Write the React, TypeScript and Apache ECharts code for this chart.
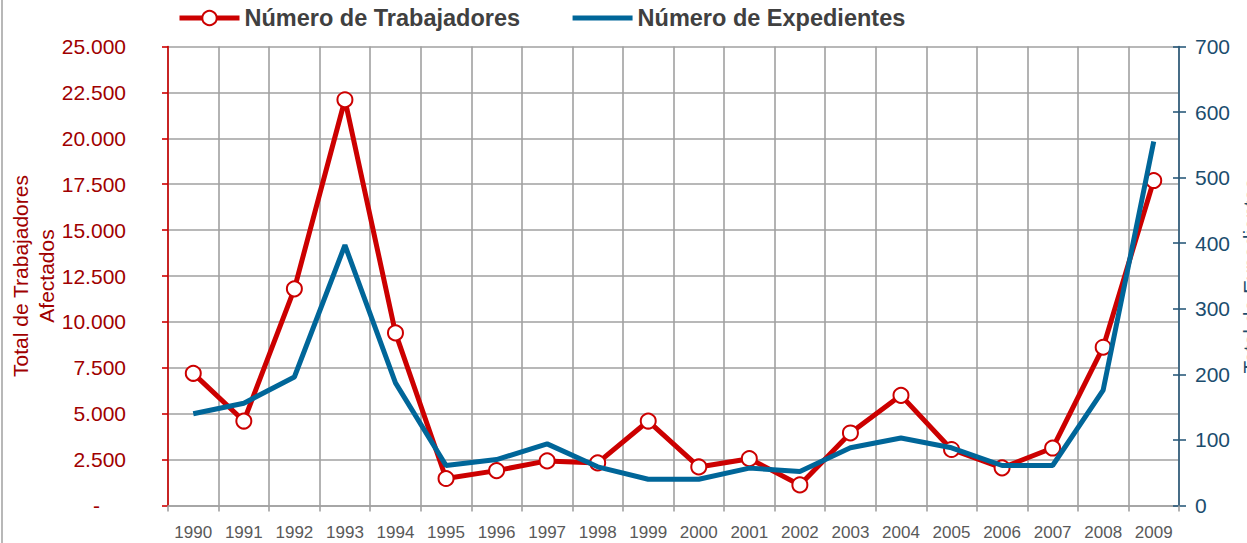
import React, { useEffect, useRef } from "react";
import * as echarts from "echarts";

const years = ["1990", "1991", "1992", "1993", "1994", "1995", "1996", "1997", "1998", "1999", "2000", "2001", "2002", "2003", "2004", "2005", "2006", "2007", "2008", "2009"];
const trabajadores = [7200, 4600, 11800, 22100, 9400, 1470, 1900, 2430, 2320, 4600, 2100, 2550, 1120, 3950, 6000, 3050, 2050, 3130, 8620, 17700];
const expedientes = [140, 156, 196, 397, 187, 61, 70, 94, 59, 40, 40, 57, 52, 88, 103, 88, 61, 61, 176, 555];

const RED = "#cc0000";
const RED_TEXT = "#a00000";
const BLUE = "#006699";
const BLUE_TEXT = "#1b4d6e";
const GRID = "#a0a0a0";
const FONT = "'Liberation Sans', Arial, sans-serif";

function fmtThousands(v: number): string {
  return String(Math.round(v)).replace(/\B(?=(\d{3})+(?!\d))/g, ".");
}

export default function App() {
  const ref = useRef<HTMLDivElement>(null);
  useEffect(() => {
    if (!ref.current) return;
    const chart = echarts.init(ref.current, undefined, { renderer: "svg" });
    chart.setOption({
      animation: false,
      backgroundColor: "#ffffff",
      textStyle: { fontFamily: FONT },
      legend: {
        left: 177,
        top: 6,
        padding: 0,
        itemWidth: 60,
        itemHeight: 18,
        itemGap: 50,
        lineStyle: { width: 5 },
        itemStyle: { borderWidth: 2 },
        textStyle: { fontFamily: FONT, fontSize: 23.5, fontWeight: "bold", color: "#404040" },
        data: [
          { name: "Número de Trabajadores" },
          { name: "Número de Expedientes", itemStyle: { opacity: 0 } },
        ],
      },
      grid: { left: 168, right: 68, top: 46.5, bottom: 37.5, containLabel: false, outerBoundsMode: "none" },
      xAxis: {
        type: "category",
        data: years,
        boundaryGap: true,
        axisLine: { lineStyle: { color: GRID, width: 1.6 } },
        axisTick: { show: true, length: 6, lineStyle: { color: GRID, width: 1.6 } },
        axisLabel: { color: "#595959", fontSize: 17, margin: 18, fontFamily: FONT, interval: 0 },
        splitLine: { show: true, lineStyle: { color: GRID, width: 1.6 } },
      },
      yAxis: [
        {
          type: "value",
          position: "left",
          min: 0,
          max: 25000,
          interval: 2500,
          name: "Total de Trabajadores\nAfectados",
          nameLocation: "middle",
          nameRotate: 90,
          nameGap: 109,
          nameMoveOverlap: false,
          nameTextStyle: { color: RED_TEXT, fontSize: 21, lineHeight: 26, fontFamily: FONT },
          axisLine: { show: true, lineStyle: { color: RED, width: 1.6 } },
          axisTick: { show: true, length: 6, lineStyle: { color: RED, width: 1.6 } },
          axisLabel: {
            color: RED_TEXT,
            fontSize: 21,
            margin: 42,
            fontFamily: FONT,
            formatter: (v: number) => (v === 0 ? "{z|-}" : fmtThousands(v)),
            rich: { z: { color: RED_TEXT, fontSize: 21, padding: [0, 26, 0, 0], fontFamily: FONT } },
          },
          splitLine: { show: true, lineStyle: { color: GRID, width: 1.6 } },
        },
        {
          type: "value",
          position: "right",
          min: 0,
          max: 700,
          interval: 100,
          name: "Total de Expedientes",
          nameLocation: "middle",
          nameRotate: 90,
          nameGap: 61,
          nameMoveOverlap: false,
          nameTextStyle: { color: BLUE_TEXT, fontSize: 21, fontFamily: FONT },
          axisLine: { show: true, lineStyle: { color: "#2b5b7b", width: 1.6 } },
          axisTick: { show: true, length: 7, lineStyle: { color: "#2b5b7b", width: 1.6 } },
          axisLabel: { color: BLUE_TEXT, fontSize: 21, margin: 16, fontFamily: FONT },
          splitLine: { show: false },
        },
        {
          type: "value",
          position: "right",
          min: 0,
          max: 700,
          interval: 100,
          axisLine: { show: false },
          axisTick: { show: true, inside: true, length: 6, lineStyle: { color: "#2b5b7b", width: 1.6 } },
          axisLabel: { show: false },
          splitLine: { show: false },
        },
      ],
      series: [
        {
          name: "Número de Trabajadores",
          type: "line",
          yAxisIndex: 0,
          data: trabajadores,
          symbol: "circle",
          symbolSize: 15,
          showSymbol: true,
          lineStyle: { color: RED, width: 5 },
          itemStyle: { color: "#ffffff", borderColor: RED, borderWidth: 2 },
          z: 2,
        },
        {
          name: "Número de Expedientes",
          type: "line",
          yAxisIndex: 1,
          data: expedientes,
          symbol: "none",
          lineStyle: { color: BLUE, width: 5 },
          itemStyle: { color: BLUE },
          z: 3,
        },
      ],
      graphic: [
        {
          type: "line",
          shape: { x1: 2, y1: 0, x2: 2, y2: 543 },
          style: { stroke: GRID, lineWidth: 1.5 },
          silent: true,
        },
      ],
    });
    return () => chart.dispose();
  }, []);
  return <div ref={ref} style={{ position: "fixed", left: 0, top: 0, width: 1247, height: 543 }} />;
}
